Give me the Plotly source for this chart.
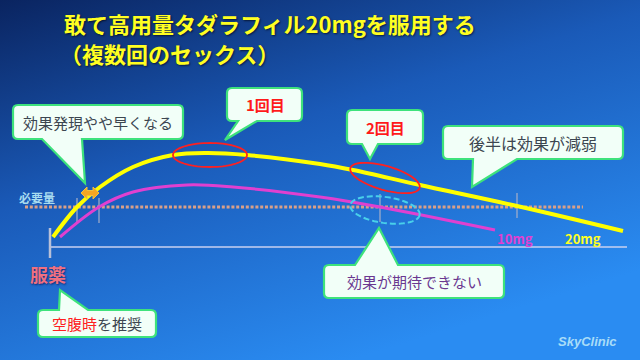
import base64
import numpy as np
import plotly.graph_objects as go

# ---------------- data ----------------
# time axis (arbitrary units after dosing) and effect level (arbitrary units)
t_20mg = [3, 27, 50, 83, 123, 157, 197, 270, 303, 370, 467, 573]
c_20mg = [10, 40, 60, 80, 92, 94, 92, 83, 77, 62, 41, 16]
t_10mg = [10, 49, 83, 137, 183, 270, 330, 445]
c_10mg = [10, 40, 55, 62, 60, 50, 40, 17]
required_level = 40
required_span = [-25, 533]
crossing_times = [27, 49, 330, 467]
crossing_lo = [24, 24, 25, 29]
crossing_hi = [49, 49, 53, 54]
axis_span = [0, 577]

W, H = 640, 360
X0PX, Y0PX = 50, 247  # pixel position of origin


def X(px):
    return px - X0PX


def Y(py):
    return Y0PX - py


FONT = "Noto Sans CJK JP"

fig = go.Figure()

# background gradient as an SVG image
svg = f"""<svg xmlns='http://www.w3.org/2000/svg' width='{W}' height='{H}'>
<defs><linearGradient id='g' x1='0' y1='0' x2='0.55' y2='1'>
<stop offset='0' stop-color='#0a2460'/>
<stop offset='0.45' stop-color='#1a5ab8'/>
<stop offset='1' stop-color='#2a8cf2'/>
</linearGradient></defs>
<rect width='{W}' height='{H}' fill='url(#g)'/></svg>"""
src = "data:image/svg+xml;base64," + base64.b64encode(svg.encode()).decode()

shapes = []

# axis line and dosing tick
shapes.append(dict(type="line", xref="x", yref="y", x0=axis_span[0], x1=axis_span[1], y0=0, y1=0,
                   line=dict(color="#c8d0f0", width=1.5), layer="below"))
shapes.append(dict(type="line", xref="x", yref="y", x0=0, x1=0, y0=Y(228), y1=Y(258),
                   line=dict(color="#b8c0d8", width=2.5), layer="below"))

# threshold crossing markers
for tc, lo, hi in zip(crossing_times, crossing_lo, crossing_hi):
    shapes.append(dict(type="line", xref="x", yref="y", x0=tc, x1=tc, y0=lo, y1=hi,
                       line=dict(color="#a8b0c8", width=1.2), layer="below"))

# required level dotted line
fig.add_trace(go.Scatter(x=required_span, y=[required_level, required_level], mode="lines",
                         line=dict(color="#d8a08a", width=3, dash="3px,1.8px"), hoverinfo="skip",
                         showlegend=False))

# curves
fig.add_trace(go.Scatter(x=t_10mg, y=c_10mg, mode="lines", line=dict(color="#e040d0", width=3, shape="spline"),
                         showlegend=False, name="10mg"))
fig.add_trace(go.Scatter(x=t_20mg, y=c_20mg, mode="lines", line=dict(color="#ffff00", width=4, shape="spline"),
                         showlegend=False, name="20mg"))


def ellipse(cx, cy, rx, ry, ang_deg, color, dash="solid", width=1.8):
    a = np.deg2rad(ang_deg)
    th = np.linspace(0, 2 * np.pi, 73)
    px = cx + rx * np.cos(th) * np.cos(a) - ry * np.sin(th) * np.sin(a)
    py = cy + rx * np.cos(th) * np.sin(a) + ry * np.sin(th) * np.cos(a)
    path = "M " + " L ".join(f"{X(u):.2f},{Y(v):.2f}" for u, v in zip(px, py)) + " Z"
    return dict(type="path", xref="x", yref="y", path=path, line=dict(color=color, width=width, dash=dash))


shapes.append(ellipse(210, 155, 37, 12, 0, "#ff2020"))
shapes.append(ellipse(385, 178, 36, 12, 16, "#ff2020"))
shapes.append(ellipse(385, 210, 35, 13, 8, "#48d0ea", dash="6px,3px", width=2))


def callout(x0, y0, x1, y1, side, b1, b2, tip, r=5):
    P = lambda u, v: f"{X(u):.2f},{Y(v):.2f}"
    parts = [f"M {P(x0 + r, y0)}"]
    if side == "top":
        parts += [f"L {P(b1, y0)}", f"L {P(*tip)}", f"L {P(b2, y0)}"]
    parts += [f"L {P(x1 - r, y0)}", f"Q {P(x1, y0)} {P(x1, y0 + r)}",
              f"L {P(x1, y1 - r)}", f"Q {P(x1, y1)} {P(x1 - r, y1)}"]
    if side == "bottom":
        parts += [f"L {P(b2, y1)}", f"L {P(*tip)}", f"L {P(b1, y1)}"]
    parts += [f"L {P(x0 + r, y1)}", f"Q {P(x0, y1)} {P(x0, y1 - r)}",
              f"L {P(x0, y0 + r)}", f"Q {P(x0, y0)} {P(x0 + r, y0)}", "Z"]
    return dict(type="path", xref="x", yref="y", path=" ".join(parts),
                fillcolor="#f2fff8", line=dict(color="#3ee27c", width=2.2))


shapes.append(callout(13, 105, 183, 139, "bottom", 42, 82, (85, 183)))
shapes.append(callout(227, 88, 302, 121, "bottom", 238, 257, (225, 140)))
shapes.append(callout(347, 110, 423, 144, "bottom", 362, 378, (370, 159)))
shapes.append(callout(443, 126, 623, 159, "bottom", 473, 517, (472, 187)))
shapes.append(callout(324, 265, 504, 298, "top", 355, 398, (379, 228)))
shapes.append(callout(38, 310, 156, 337, "top", 59, 88, (60, 290)))

# orange double arrow
arrow_px = [(81, 193), (87, 187), (87, 190.5), (93, 190.5), (93, 187), (99, 193),
            (93, 199), (93, 195.5), (87, 195.5), (87, 199)]
shapes.append(dict(type="path", xref="x", yref="y",
                   path="M " + " L ".join(f"{X(u)},{Y(v)}" for u, v in arrow_px) + " Z",
                   fillcolor="#f5a623", line=dict(color="#f0c040", width=1)))

ann = []


def text(px, py, s, size, color, bold=False, anchor="center", family=FONT, shadow="none", italic=False):
    st = "italic" if italic else "normal"
    ann.append(dict(x=X(px), y=Y(py), xref="x", yref="y", text=f"<b>{s}</b>" if bold else s,
                    showarrow=False, xanchor=anchor, yanchor="middle",
                    font=dict(family=family, size=size, color=color, shadow=shadow, style=st)))


tshadow = "1px 1px 2px rgba(0,0,0,0.6)"
text(62, 23, "敢て高用量タダラフィル20mgを服用する", 22, "#ffff22", bold=True, anchor="left", shadow=tshadow)
text(58, 53, "（複数回のセックス）", 22, "#ffff22", bold=True, anchor="left", shadow=tshadow)

text(98, 122, "効果発現やや早くなる", 15, "#3c4650")
text(265, 104, "1回目", 15, "#ff1a1a", bold=True)
text(385, 127, "2回目", 15, "#ff1a1a", bold=True)
text(533, 143, "後半は効果が減弱", 16, "#3c4650")
text(414, 281, "効果が期待できない", 15, "#6a3890")
text(97, 323, "<span style='color:#ff2020'>空腹時</span>を推奨", 15, "#3c4650")

text(48, 274, "服薬", 18, "#f07080", bold=True, shadow="1px 1px 2px rgba(0,0,60,0.6)")
text(37, 197, "必要量", 12, "#a8dcf0", bold=True)
text(515, 238, "10mg", 13, "#e040d0", bold=True)
text(583, 238, "20mg", 13, "#ffff22", bold=True)
text(587, 341, "SkyClinic", 13, "#a8dcf8", bold=True, family="Liberation Sans", italic=True)

fig.update_layout(
    width=W, height=H, margin=dict(l=0, r=0, t=0, b=0),
    paper_bgcolor="#1a5ab8", plot_bgcolor="rgba(0,0,0,0)",
    xaxis=dict(range=[X(0), X(W)], visible=False, fixedrange=True),
    yaxis=dict(range=[Y(H), Y(0)], visible=False, fixedrange=True),
    shapes=shapes, annotations=ann,
    images=[dict(source=src, xref="paper", yref="paper", x=0, y=1, sizex=1, sizey=1,
                 sizing="stretch", layer="below", xanchor="left", yanchor="top")],
)

fig.write_html("out.html", config={"displayModeBar": False},
               post_script="document.body.style.margin='0';document.documentElement.style.overflow='hidden';")
